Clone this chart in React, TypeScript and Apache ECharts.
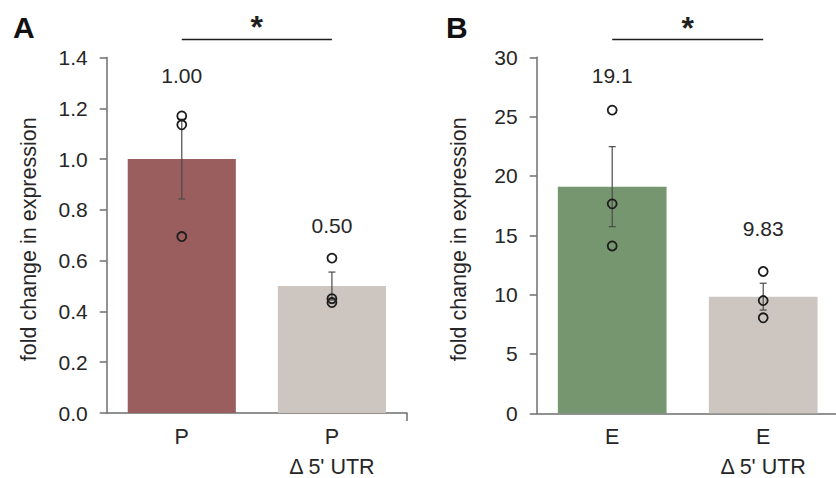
import React, { useEffect, useRef } from "react";
import * as echarts from "echarts";

// ---------- Data ----------
const categoriesA = ["P", "P\nΔ 5' UTR"];
const meansA = [1.0, 0.5];
const semA = [0.157, 0.055];
const pointsA = [
  [1.17, 1.135, 0.695],
  [0.61, 0.45, 0.435],
];
const labelTextA = ["1.00", "0.50"];
const labelYA = [1.331, 0.74];
const sigYA = 1.471;

const categoriesB = ["E", "E\nΔ 5' UTR"];
const meansB = [19.1, 9.83];
const semB = [3.37, 1.13];
const pointsB = [
  [25.55, 17.65, 14.1],
  [11.95, 9.5, 8.05],
];
const labelTextB = ["19.1", "9.83"];
const labelYB = [28.5, 15.6];
const sigYB = 31.5;

const yTicksA = { min: 0, max: 1.4, interval: 0.2 };
const yTicksB = { min: 0, max: 30, interval: 5 };

// ---------- Styles ----------
const FONT = "'Liberation Sans', Arial, Helvetica, sans-serif";
const COLOR_P = "#995e5d";
const COLOR_E = "#76966f";
const COLOR_DEL = "#ccc5c0";
const AXIS_COLOR = "#6e6e6e";
const TEXT_COLOR = "#262626";

const GRID_A = { left: 106.7, top: 57.5, width: 300.3, height: 355.5 };
const GRID_B = { left: 536.7, top: 57.3, width: 302, height: 356 };

function xAxisDef(gridIndex: number, cats: string[]) {
  return {
    type: "category",
    gridIndex,
    data: cats,
    axisLine: { lineStyle: { color: AXIS_COLOR, width: 1.5 } },
    axisTick: {
      alignWithLabel: true,
      interval: 0,
      length: 8,
      lineStyle: { color: AXIS_COLOR, width: 1.5 },
    },
    axisLabel: {
      interval: 0,
      hideOverlap: false,
      color: TEXT_COLOR,
      fontFamily: FONT,
      fontSize: 21.5,
      margin: 4,
      formatter: (v: string) => {
        const parts = v.split("\n");
        return parts.map((p, i) => (i === 0 ? `{a|${p}}` : `{b|${p}}`)).join("\n");
      },
      rich: {
        a: { fontFamily: FONT, fontSize: 21.5, color: TEXT_COLOR, lineHeight: 40 },
        b: { fontFamily: FONT, fontSize: 21.5, color: TEXT_COLOR, lineHeight: 20 },
      },
    },
    splitLine: { show: false },
  };
}

function yAxisDef(gridIndex: number, t: { min: number; max: number; interval: number }, digits: number) {
  return {
    type: "value",
    gridIndex,
    min: t.min,
    max: t.max,
    interval: t.interval,
    name: "fold change in expression",
    nameLocation: "middle",
    nameGap: 67,
    nameRotate: 90,
    nameTextStyle: { color: TEXT_COLOR, fontFamily: FONT, fontSize: 21.5, padding: [0, 8, 0, 0] },
    axisLine: { show: true, lineStyle: { color: AXIS_COLOR, width: 1.5 } },
    axisTick: { show: true, length: 7, lineStyle: { color: AXIS_COLOR, width: 1.5 } },
    axisLabel: {
      color: TEXT_COLOR,
      fontFamily: FONT,
      fontSize: 21,
      margin: 19,
      formatter: (v: number) => v.toFixed(digits),
    },
    splitLine: { show: false },
  };
}

function barSeries(idx: number, means: number[], colors: string[]) {
  return {
    type: "bar",
    xAxisIndex: idx,
    yAxisIndex: idx,
    barWidth: "72%",
    data: means.map((v, i) => ({ value: v, itemStyle: { color: colors[i] } })),
    z: 1,
  };
}

function errorSeries(idx: number, means: number[], sem: number[]) {
  return {
    type: "custom",
    xAxisIndex: idx,
    yAxisIndex: idx,
    z: 3,
    data: means.map((m, i) => [i, m - sem[i], m + sem[i]]),
    renderItem: (params: any, api: any) => {
      const x = api.value(0);
      const lo = api.coord([x, api.value(1)]);
      const hi = api.coord([x, api.value(2)]);
      const cap = 3.5;
      const style = { stroke: "#4a4a4a", lineWidth: 1.2 };
      return {
        type: "group",
        children: [
          { type: "line", shape: { x1: lo[0], y1: lo[1], x2: hi[0], y2: hi[1] }, style },
          { type: "line", shape: { x1: lo[0] - cap, y1: lo[1], x2: lo[0] + cap, y2: lo[1] }, style },
          { type: "line", shape: { x1: hi[0] - cap, y1: hi[1], x2: hi[0] + cap, y2: hi[1] }, style },
        ],
      };
    },
  };
}

function pointSeries(idx: number, pts: number[][]) {
  const data: number[][] = [];
  pts.forEach((arr, i) => arr.forEach((v) => data.push([i, v])));
  return {
    type: "scatter",
    xAxisIndex: idx,
    yAxisIndex: idx,
    z: 4,
    symbol: "circle",
    symbolSize: 9,
    itemStyle: { color: "rgba(0,0,0,0)", borderColor: "#1c1c1c", borderWidth: 1.8, opacity: 1 },
    data,
  };
}

function labelSeries(idx: number, texts: string[], ys: number[]) {
  return {
    type: "custom",
    xAxisIndex: idx,
    yAxisIndex: idx,
    z: 5,
    data: ys.map((y, i) => [i, y]),
    renderItem: (params: any, api: any) => {
      const p = api.coord([api.value(0), api.value(1)]);
      return {
        type: "text",
        style: {
          text: texts[params.dataIndex],
          x: p[0],
          y: p[1],
          align: "center",
          verticalAlign: "middle",
          fontFamily: FONT,
          fontSize: 21,
          fill: TEXT_COLOR,
        },
      };
    },
  };
}

function sigSeries(idx: number, sigY: number) {
  return {
    type: "custom",
    xAxisIndex: idx,
    yAxisIndex: idx,
    z: 5,
    clip: false,
    data: [[0, 1, sigY]],
    renderItem: (params: any, api: any) => {
      const p0 = api.coord([api.value(0), api.value(2)]);
      const p1 = api.coord([api.value(1), api.value(2)]);
      const mid = (p0[0] + p1[0]) / 2;
      return {
        type: "group",
        children: [
          {
            type: "line",
            shape: { x1: p0[0], y1: p0[1], x2: p1[0], y2: p1[1] },
            style: { stroke: "#1e1e1e", lineWidth: 1.5 },
          },
          {
            type: "text",
            style: {
              text: "*",
              x: mid,
              y: p0[1] - 12,
              align: "center",
              verticalAlign: "middle",
              fontFamily: FONT,
              fontWeight: "bold",
              fontSize: 32,
              fill: "#1e1e1e",
            },
          },
        ],
      };
    },
  };
}

export default function App() {
  const ref = useRef<HTMLDivElement>(null);

  useEffect(() => {
    document.body.style.margin = "0";
    if (!ref.current) return;
    const chart = echarts.init(ref.current, null, { renderer: "svg" });
    const endTickY = GRID_A.top + GRID_A.height;
    chart.setOption({
      animation: false,
      backgroundColor: "#ffffff",
      grid: [
        { ...GRID_A, containLabel: false, outerBoundsMode: "none" },
        { ...GRID_B, containLabel: false, outerBoundsMode: "none" },
      ],
      xAxis: [xAxisDef(0, categoriesA), xAxisDef(1, categoriesB)],
      yAxis: [yAxisDef(0, yTicksA, 1), yAxisDef(1, yTicksB, 0)],
      graphic: [
        {
          type: "text",
          left: 13,
          top: 12,
          style: { text: "A", fontFamily: FONT, fontWeight: "bold", fontSize: 30, fill: "#111" },
        },
        {
          type: "text",
          left: 446,
          top: 12,
          style: { text: "B", fontFamily: FONT, fontWeight: "bold", fontSize: 30, fill: "#111" },
        },
        {
          type: "line",
          shape: {
            x1: GRID_A.left + GRID_A.width,
            y1: endTickY,
            x2: GRID_A.left + GRID_A.width,
            y2: endTickY + 8,
          },
          style: { stroke: AXIS_COLOR, lineWidth: 1.5 },
        },
      ],
      series: [
        barSeries(0, meansA, [COLOR_P, COLOR_DEL]),
        errorSeries(0, meansA, semA),
        pointSeries(0, pointsA),
        labelSeries(0, labelTextA, labelYA),
        sigSeries(0, sigYA),
        barSeries(1, meansB, [COLOR_E, COLOR_DEL]),
        errorSeries(1, meansB, semB),
        pointSeries(1, pointsB),
        labelSeries(1, labelTextB, labelYB),
        sigSeries(1, sigYB),
      ],
    });
    return () => chart.dispose();
  }, []);

  return <div ref={ref} style={{ width: 836, height: 478 }} />;
}
